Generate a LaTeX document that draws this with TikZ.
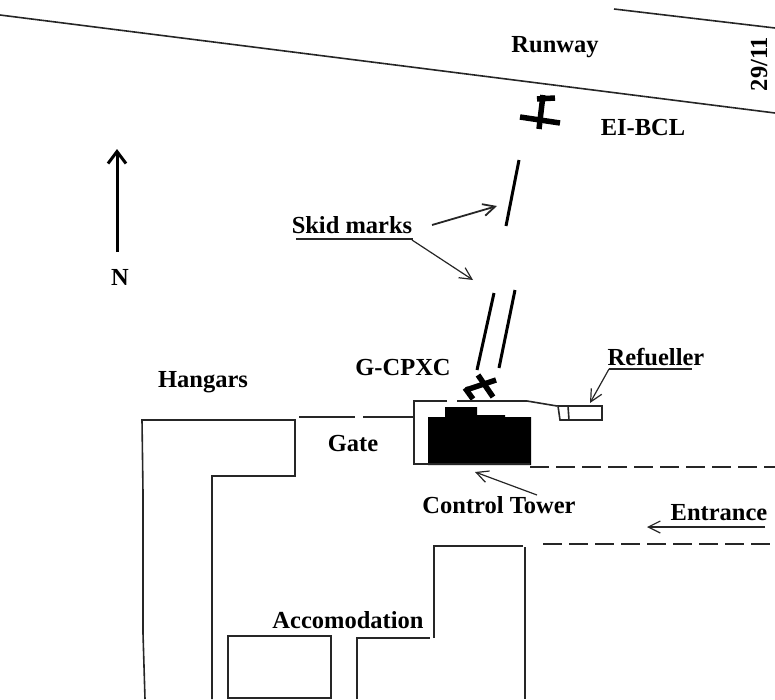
\documentclass[tikz,border=0pt]{standalone}
\usepackage{fontspec}
\setmainfont{Liberation Serif}
\usetikzlibrary{arrows.meta}

\begin{document}
\begin{tikzpicture}[
    x=1pt, y=-1pt,
    >={Straight Barb[length=12pt,width=12pt]},
    place/.style={
        font=\fontsize{24.5}{26}\selectfont\bfseries,
        inner sep=0pt
    },
    plan/.style={
        line width=1.6pt,
        draw=black!85
    },
    skid/.style={
        line width=3pt,
        draw=black
    },
    plane/.style={
        line width=5.5pt,
        draw=black
    },
    pointer/.style={
        ->,
        line width=1.2pt,
        draw=black!85
    },
    gapline/.style={
        line width=1.6pt,
        draw=black!85,
        dash pattern=on 19pt off 7pt
    }
]
\useasboundingbox (0,0) rectangle (775,699);

% runway
\draw[plan] (0,15) -- (775,113);
\draw[plan] (614,9) -- (775,28);
\node[place] (runway) at (555,47) {Runway};
\node[place, rotate=90] (rwynum) at (759,64) {29/11};

% north arrow
\coordinate (ntip) at (117,149);
\node[place] (north) at (120,277) {N};
\draw[line width=3pt, -{Straight Barb[length=12pt,width=18pt]}] (117,252) -- (ntip);

% aircraft
\node[place] (eibcl) at (643,128) {EI-BCL};
\draw[plane] (543,95) -- (539,129);
\draw[plane] (520,117) -- (560,123);
\draw[plane] (537,99) -- (555,98);
\node[place] (gcpxc) at (403,368) {G-CPXC};
\draw[plane] (478,375) -- (493,397);
\draw[plane] (466,390) -- (496,380);
\draw[plane] (465,388) -- (473,399);

% skid marks
\draw[skid] (519,160) -- (506,226);
\draw[skid] (494,293) -- (477,370);
\draw[skid] (515,290) -- (499,368);
\node[place] (skidlbl) at (352,225) {Skid marks};
\draw[plan] (296,239) -- (413,239);
\coordinate (skidA) at (497,206);
\coordinate (skidB) at (473,280);
\draw[pointer, line width=1.8pt] (432,225) -- (skidA);
\draw[pointer] (412,240) -- (skidB);

% control tower
\fill[black] (428,465) -- (428,417) -- (445,417) -- (445,407) -- (477,407)
    -- (477,415) -- (505,415) -- (505,417) -- (531,417) -- (531,465) -- cycle;
\draw[plan] (447,401) -- (414,401) -- (414,464) -- (530,464);
\draw[plan] (457,401) -- (527,401) -- (557,406);
\node[place] (tower) at (499,505) {Control Tower};
\coordinate (towerpt) at (475,472);
\draw[pointer] (537,495) -- (towerpt);

% refueller
\draw[plan] (558,406) -- (602,406) -- (602,420) -- (560,420) -- cycle;
\draw[plan] (568,406) -- (569,420);
\node[place] (refuel) at (656,357) {Refueller};
\draw[plan] (609,369) -- (692,369);
\coordinate (refuelpt) at (590,403);
\draw[pointer] (609,369) -- (refuelpt);

% gate and road
\draw[plan] (299,417) -- (355,417);
\draw[plan] (363,417) -- (414,417);
\node[place] (gate) at (353,443) {Gate};
\draw[gapline] (530,467) -- (775,467);
\draw[gapline] (543,544) -- (775,544);
\node[place] (entrance) at (719,513) {Entrance};
\coordinate (entrpt) at (647,527);
\draw[pointer] (765,527) -- (entrpt);

% hangars
\node[place] (hangars) at (203,382) {Hangars};
\draw[plan] (145,699) -- (143,633) -- (143,493) -- (142,420) -- (295,420)
    -- (295,476) -- (212,476) -- (212,699);

% accommodation blocks
\node[place] (accom) at (348,620) {Accomodation};
\draw[plan] (228,699) -- (228,636) -- (331,636) -- (331,699);
\draw[plan] (228,698) -- (331,698);
\draw[plan] (357,699) -- (357,638) -- (430,638);
\draw[plan] (434,638) -- (434,546) -- (523,546);
\draw[plan] (525,547) -- (525,699);

\end{tikzpicture}
\end{document}
